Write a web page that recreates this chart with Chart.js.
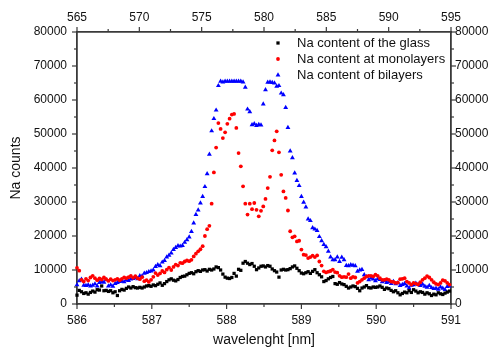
<!DOCTYPE html>
<html>
<head>
<meta charset="utf-8">
<script src="https://cdn.jsdelivr.net/npm/chart.js@4/dist/chart.umd.min.js"></script>
<style>
  html, body { margin: 0; padding: 0; background: #fff; }
  #wrap { width: 492px; height: 349px; }
</style>
</head>
<body>
<div id="wrap"><canvas id="na-chart"></canvas></div>
<script>
// sampling of the spectrum: first wavelength and spacing (nm)
const wlStart = 586, wlStep = 0.03

// Na counts, one value per wavelength step
const glass = [
  2600, 4000, 3600, 3100, 3300, 2900, 3400, 3800, 3500, 4200,
  4100, 5300, 3900, 4000, 3700, 3900, 3300, 3600, 2500, 3900,
  4300, 4100, 4600, 5000, 4700, 5100, 4800, 4700, 4900, 4700,
  5000, 5300, 5400, 5200, 5600, 5400, 5800, 6200, 5500, 6000,
  6600, 7100, 7400, 7000, 6800, 7200, 7800, 8100, 8200, 8600,
  9000, 9200, 8900, 9500, 9800, 9600, 10000, 10100, 9700, 10200,
  10000, 10300, 10900, 10700, 10000, 8800, 7900, 7600, 7500, 7800,
  9000, 8200, 10200, 9900, 12000, 12500, 12000, 11600, 11900, 11100,
  10100, 10600, 11100, 11200, 10900, 11300, 11100, 10300, 9800, 9400,
  7900, 10000, 10200, 10000, 10100, 10400, 10900, 11200, 10500, 9800,
  9100, 8900, 9200, 9500, 9000, 9600, 10100, 9200, 8600, 8000,
  6600, 6900, 7400, 7800, 8100, 6000, 5800, 6300, 5900, 5700,
  5200, 4700, 5000, 5300, 5100, 4600, 3900, 4700, 5000, 5400,
  4800, 4700, 5000, 4900, 5000, 5300, 4900, 4300, 4700, 4500,
  4000, 3600, 3900, 3300, 2700, 3100, 3500, 3300, 3900, 3400,
  4200, 3800, 3300, 3600, 3400, 2900, 3300, 3000, 2500, 2900,
  2700, 3300, 3000, 2800, 3200, 3500, 3800
]
const monolayers = [
  10600, 9800, 7100, 6600, 7400, 6900, 7800, 8300, 7600, 7000,
  7500, 7200, 7800, 7300, 6800, 7300, 6900, 7100, 7400, 7000,
  7400, 7800, 7600, 7900, 8300, 7700, 8200, 7600, 7300, 7900,
  6700, 7000, 6500, 7100, 8000, 9100, 8500, 9000, 9700, 9300,
  10100, 10700, 10000, 10900, 11600, 11300, 12100, 12000, 12500, 12800,
  12600, 13000, 14000, 14800, 15500, 16100, 17000, 20000, 22000, 23000,
  29500, 38700, 46000, 53200, 51500, 48800, 50500, 53000, 54500, 55700,
  55900, 51800, 44400, 40500, 34600, 29500, 26300, 29500, 27900, 29700,
  27700, 25800, 27400, 28700, 30900, 34100, 37400, 45200, 48100, 50800,
  44600, 38000, 33100, 31200, 27500, 21400, 19600, 19900, 18400, 18600,
  16000, 14500, 14400, 13500, 13800, 14200, 13800, 14300, 12500, 11300,
  9600, 9300, 9500, 9700, 10100, 9400, 9200, 8300, 7900, 8000,
  7900, 8800, 7600, 8000, 7800, 6200, 6600, 7100, 7600, 8100,
  8300, 8300, 8100, 8600, 8300, 7600, 7100, 7100, 7300, 7100,
  6600, 6500, 6200, 6300, 7300, 7400, 7600, 6600, 6200, 5700,
  6200, 6000, 5700, 6400, 7100, 7600, 8200, 7800, 7100, 6400,
  5900, 5700, 6200, 7000, 6800, 6200, 5700
]
const bilayers = [
  5600, 6800, 7300, 5500, 5400, 5600, 5300, 5500, 5900, 5300,
  6300, 6600, 6400, 7100, 5300, 5600, 5200, 6000, 6300, 6600,
  6700, 6500, 7000, 6900, 7300, 7500, 7800, 7400, 8300, 8200,
  9000, 9200, 9500, 9700, 10000, 11000, 11500, 11200, 12300, 12800,
  13800, 14300, 15000, 16000, 16600, 17100, 17000, 17200, 18100, 18900,
  19700, 21300, 23800, 26300, 27600, 29700, 31600, 34500, 38300, 44000,
  50900, 54500, 57000, 64200, 65500, 65300, 65500, 65500, 65500, 65500,
  65500, 65500, 65500, 65500, 65300, 63700, 57300, 56500, 52700, 53000,
  52500, 52800, 52600, 58800, 63000, 65200, 65300, 65100, 65000, 64000,
  64200, 62000, 61500, 57800, 51900, 45000, 43000, 38500, 36300, 34800,
  31600, 29900, 28500, 25000, 24500, 22400, 22000, 21600, 19800, 18600,
  17500, 16800, 15500, 13800, 13000, 13000, 13800, 12500, 13700, 13000,
  11300, 11200, 11500, 11400, 11200, 9600, 10000, 10100, 8600, 8000,
  7100, 7600, 7300, 6800, 7400, 7200, 6500, 6800, 6300, 6600,
  6000, 6600, 5900, 6200, 5400, 5700, 6000, 5300, 4700, 5500,
  5600, 6100, 5800, 5400, 5800, 5200, 4900, 5400, 4800, 4500,
  4600, 4300, 5000, 4600, 4200, 5100, 5300
]

const seriesNames = ['Na content of the glass', 'Na content at monolayers', 'Na content of bilayers']
const bottomTicks = [586, 587, 588, 589, 590, 591]
const topTicks = [565, 570, 575, 580, 585, 590, 595]
const countTicks = [0, 10000, 20000, 30000, 40000, 50000, 60000, 70000, 80000]

const axisColor = '#3a3a3a',
      textColor = '#111',
      fontFamily = '"Liberation Sans", Arial, sans-serif';

const wavelength = glass.map((v, i) => +(wlStart + i * wlStep).toFixed(2))
const toPoints = (vals) => vals.map((y, i) => ({x: wavelength[i], y: y}))

const halves = (arr) => arr.slice(1).map((v, i) => (v + arr[i]) / 2)

// outward major/minor tick marks on all four sides
const outerTicks = {
  id: 'outerTicks',
  afterDraw(chart) {
    const ctx = chart.ctx, a = chart.chartArea
    ctx.save()
    ctx.strokeStyle = axisColor
    ctx.lineWidth = 1.2
    const mark = (id, values, len) => {
      const s = chart.scales[id]
      values.forEach((v) => {
        const p = s.getPixelForValue(v)
        ctx.beginPath()
        if (s.position === 'bottom') { ctx.moveTo(p, a.bottom); ctx.lineTo(p, a.bottom + len) }
        else if (s.position === 'top') { ctx.moveTo(p, a.top); ctx.lineTo(p, a.top - len) }
        else if (s.position === 'left') { ctx.moveTo(a.left, p); ctx.lineTo(a.left - len, p) }
        else { ctx.moveTo(a.right, p); ctx.lineTo(a.right + len, p) }
        ctx.stroke()
      })
    }
    mark('x', bottomTicks, 5); mark('x', halves(bottomTicks), 3)
    mark('x2', topTicks, 5); mark('x2', halves(topTicks), 3)
    mark('y', countTicks, 5); mark('y', halves(countTicks), 3)
    mark('y2', countTicks, 5); mark('y2', halves(countTicks), 3)
    ctx.restore()
  }
}

const drawMarker = (ctx, style, r, x, y) => {
  ctx.beginPath()
  if (style === 'rect') {
    const h = r * Math.SQRT1_2
    ctx.rect(x - h, y - h, 2 * h, 2 * h)
  } else if (style === 'triangle') {
    ctx.moveTo(x, y - r)
    ctx.lineTo(x + 0.866 * r, y + 0.5 * r)
    ctx.lineTo(x - 0.866 * r, y + 0.5 * r)
    ctx.closePath()
  } else {
    ctx.arc(x, y, r, 0, Math.PI * 2)
  }
  ctx.fill()
}

// legend sits inside the plot, top right, without a frame
const insideLegend = {
  id: 'insideLegend',
  afterDraw(chart) {
    const ctx = chart.ctx
    ctx.save()
    ctx.font = '13px ' + fontFamily
    ctx.textBaseline = 'middle'
    ctx.textAlign = 'left'
    chart.data.datasets.forEach((ds, i) => {
      const y = 43 + i * 16
      ctx.fillStyle = ds.backgroundColor
      drawMarker(ctx, ds.pointStyle, ds.pointRadius, 278, y)
      ctx.fillStyle = textColor
      ctx.fillText(ds.label, 297, y)
    })
    ctx.restore()
  }
}

const makeSet = (label, vals, color, style, r) => ({
  label: label,
  data: toPoints(vals),
  backgroundColor: color,
  borderColor: color,
  borderWidth: 0,
  pointStyle: style,
  pointRadius: r,
  pointHoverRadius: r,
  clip: false
})

const axisBase = (min, max, ticksArr, pos, pad) => ({
  type: 'linear',
  position: pos,
  min: min,
  max: max,
  afterBuildTicks: (s) => { s.ticks = ticksArr.map((v) => ({value: v})) },
  grid: {display: true, drawOnChartArea: false, drawTicks: false},
  border: {display: true, color: axisColor, width: 1.8},
  ticks: {
    color: textColor,
    font: {size: 12, family: fontFamily},
    padding: pad,
    maxRotation: 0,
    autoSkip: false,
    callback: (v) => String(v)
  }
})

Chart.defaults.font.family = fontFamily

const xBottom = axisBase(586, 591, bottomTicks, 'bottom', 9)
xBottom.title = {display: true, text: 'wavelenght [nm]', color: textColor,
  font: {size: 14, family: fontFamily}, padding: {top: 0, bottom: 0}}
xBottom.afterFit = (s) => { s.height = 45 }

const xTop = axisBase(565, 595, topTicks, 'top', 7)
xTop.afterFit = (s) => { s.height = 32 }

const yLeft = axisBase(0, 80000, countTicks, 'left', 10)
yLeft.title = {display: true, text: 'Na counts', color: textColor,
  font: {size: 14, family: fontFamily}, padding: {top: 8, bottom: 0}}
yLeft.afterFit = (s) => { s.width = 77 }

const yRight = axisBase(0, 80000, countTicks, 'right', 4)
yRight.afterFit = (s) => { s.width = 41 }

const ctx = document.getElementById('na-chart').getContext('2d')
new Chart(ctx, {
  type: 'scatter',
  data: {
    datasets: [
      makeSet(seriesNames[0], glass, '#000000', 'rect', 2.3),
      makeSet(seriesNames[1], monolayers, '#ff0000', 'circle', 1.9),
      makeSet(seriesNames[2], bilayers, '#0000ff', 'triangle', 2.8)
    ]
  },
  options: {
    responsive: true,
    maintainAspectRatio: false,
    animation: false,
    layout: {padding: 0},
    plugins: {legend: {display: false}, tooltip: {enabled: false}},
    scales: {x: xBottom, x2: xTop, y: yLeft, y2: yRight}
  },
  plugins: [outerTicks, insideLegend]
})
</script>
</body>
</html>
